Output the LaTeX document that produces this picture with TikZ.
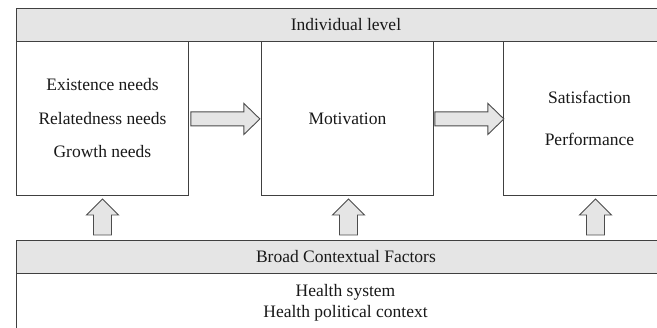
\documentclass[tikz,border=0pt]{standalone}
\usepackage{fontspec}
\setmainfont{Liberation Serif}
\begin{document}
\begin{tikzpicture}[x=1pt,y=-1pt,
  line width=0.9pt,
  every node/.style={font=\fontsize{17.5}{21}\selectfont, text=black!90},
  frame/.style={draw=black!75, fill=white, inner sep=0pt, anchor=north west, align=center},
  band/.style={frame, fill=black!10},
  blk/.style={draw=black!70, fill=black!10, line join=miter},
  rarrow/.pic={\draw[blk] (0,-7) -- (53,-7) -- (53,-15.5) -- (69,0) -- (53,15.5) -- (53,7) -- (0,7) -- cycle;},
  uarrow/.pic={\draw[blk] (-9,0) -- (-9,-20) -- (-16,-20) -- (0,-36) -- (16,-20) -- (9,-20) -- (9,0) -- cycle;}
]
\useasboundingbox (0,0) rectangle (657,328);
\clip (0,0) rectangle (657,328);
\fill[white] (0,0) rectangle (657,328);

% individual level
\node[band, minimum width=659, minimum height=33] (indiv) at (16,8) {Individual level};
\node[frame, minimum width=172, minimum height=154, font=\fontsize{17.5}{33.5}\selectfont]
  (needs) at (16,41) {Existence needs\\Relatedness needs\\Growth needs};
\node[frame, minimum width=172, minimum height=154] (motiv) at (261,41) {Motivation};
\node[frame, minimum width=172, minimum height=154, font=\fontsize{17.5}{42}\selectfont]
  (outcome) at (503,41) {Satisfaction\\Performance};

% horizontal block arrows
\path (needs.east) ++(2,0.5) pic {rarrow};
\path (motiv.east) ++(1,0.5) pic {rarrow};

% broad contextual factors
\node[band, minimum width=659, minimum height=33] (broad) at (16,240) {Broad Contextual Factors};
\node[frame, minimum width=659, minimum height=80] (ctxbody) at (16,273) {};
\node[font=\fontsize{17.5}{21}\selectfont, align=center, inner sep=0pt]
  (ctxtext) at (345.5,302.5) {Health system\\Health political context};

% upward block arrows
\path (broad.north -| needs.south) ++(0,-5) pic {uarrow};
\path (broad.north -| motiv.south) ++(1,-5) pic {uarrow};
\path (broad.north -| outcome.south) ++(6,-5) pic {uarrow};
\end{tikzpicture}
\end{document}
